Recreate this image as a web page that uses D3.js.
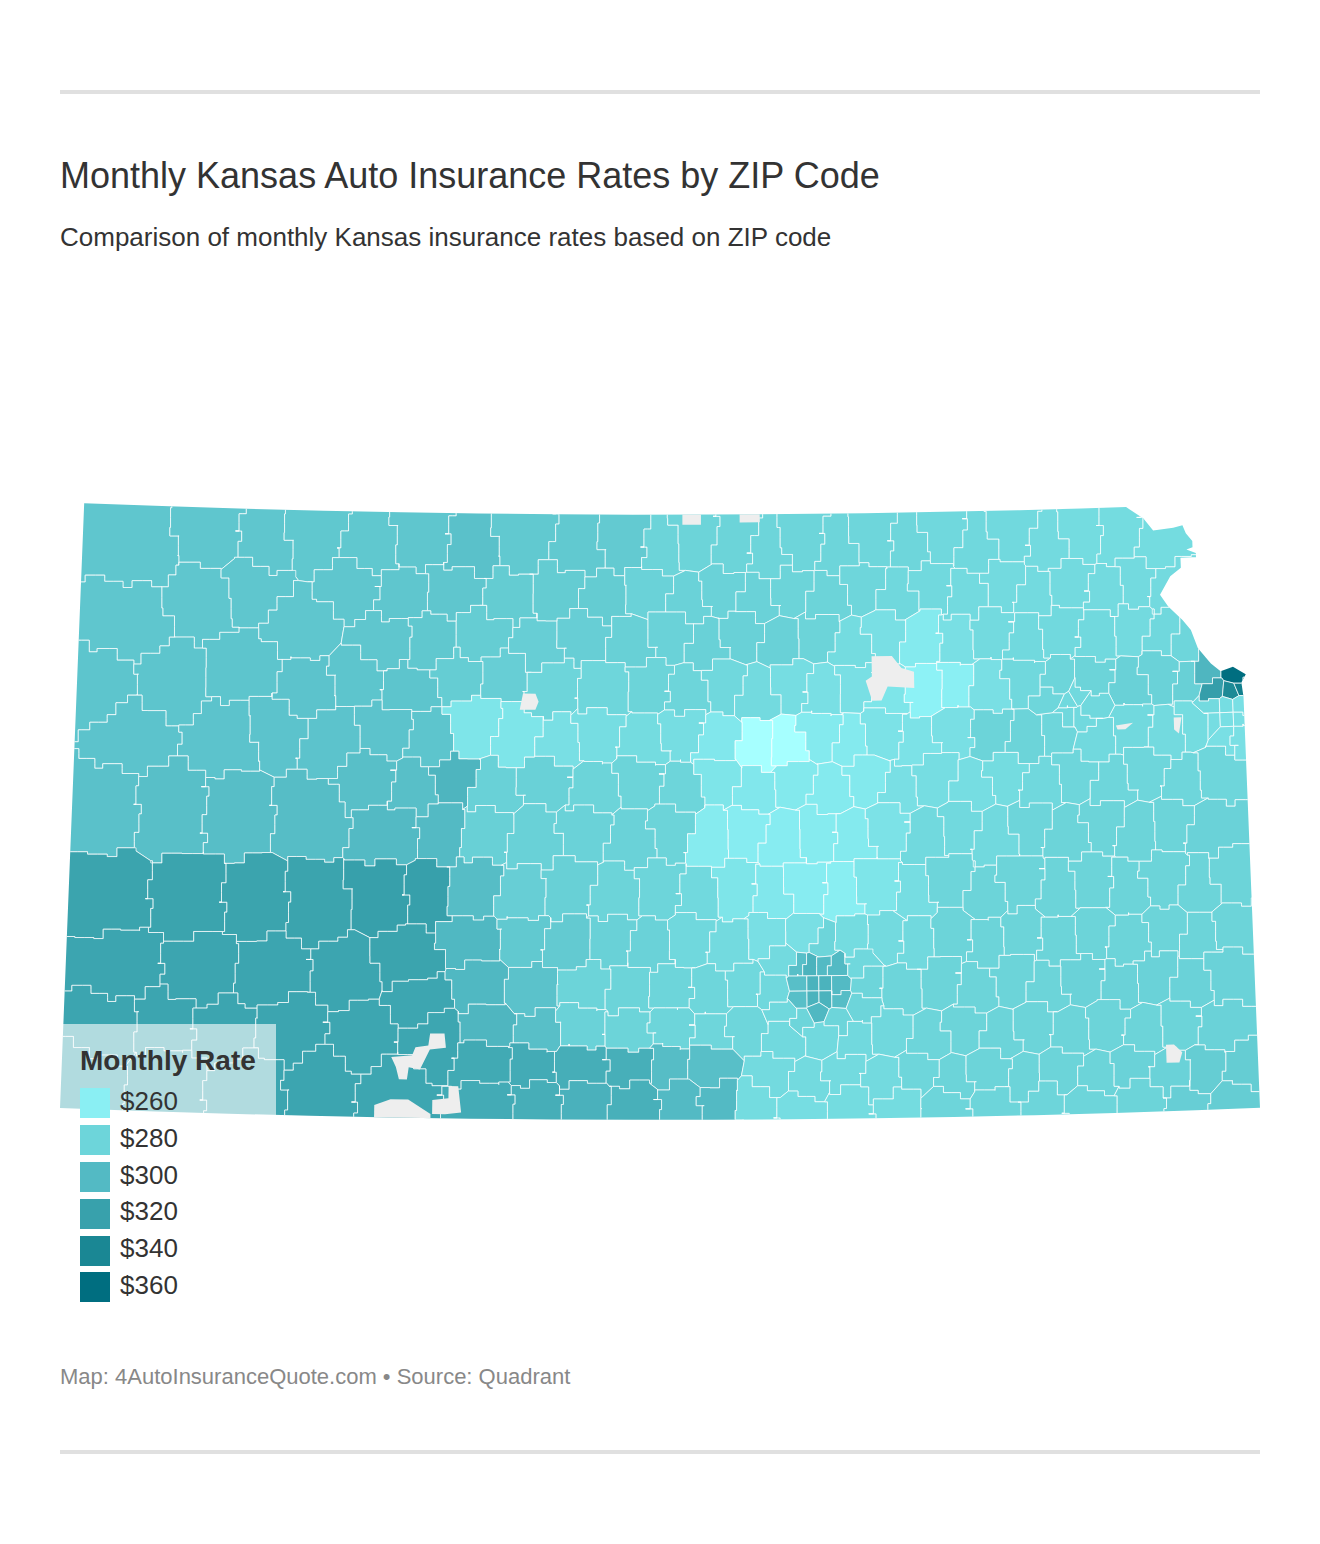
<!DOCTYPE html>
<html lang="en">
<head>
<meta charset="UTF-8">
<title>Monthly Kansas Auto Insurance Rates by ZIP Code</title>
<style>
  body { margin: 0; background: #fff; font-family: "Liberation Sans", Arial, sans-serif; }
  svg { display: block; }
  .title { font-size: 36px; fill: #333; }
  .subtitle { font-size: 26px; fill: #333; }
  .legend-title { font-size: 28px; font-weight: bold; fill: #333; }
  .legend-label { font-size: 26px; fill: #333; }
  .source { font-size: 22px; fill: #888; }
  .rule { fill: #e0e0e0; }
  .zip { stroke: #fff; stroke-width: 1; stroke-opacity: 0.72; stroke-linejoin: round; }
</style>
</head>
<body>
<svg id="chart" width="1320" height="1544"></svg>
<script src="https://d3js.org/d3.v7.min.js"></script>
<script>
// legend stops
const legendRates = [260, 280, 300, 320, 340, 360];
const legendColors = ["#8aeff3", "#6dd5da", "#53bac4", "#38a1ac", "#1a8794", "#006e80"];

// state border, [lon, lat]
const northBorder = [[-102.05,40],[-101.5,40],[-101,40],[-100.5,40],[-100,40],[-99.5,40],[-99,40],[-98.5,40],[-98,40],[-97.5,40],[-97,40],[-96.5,40],[-96,40],[-95.6,40],[-95.31,40]];
const riverBorder = [[-95.2,39.94],[-95.14,39.88],[-95.01,39.89],[-94.95,39.9],[-94.93,39.86],[-94.89,39.82],[-94.89,39.79],[-94.93,39.78],[-94.87,39.76],[-94.87,39.74],[-94.9,39.74],[-94.97,39.74],[-94.97,39.69],[-95.04,39.65],[-95.11,39.56],[-95.06,39.5],[-94.97,39.43],[-94.92,39.38],[-94.88,39.29],[-94.83,39.24],[-94.8,39.21],[-94.74,39.17],[-94.66,39.19],[-94.58,39.15],[-94.61,39.11],[-94.6,39.04]];
const southBorder = [[-94.6,37],[-95,37],[-95.5,37],[-96,37],[-96.5,37],[-97,37],[-97.5,37],[-98,37],[-98.5,37],[-99,37],[-99.5,37],[-100,37],[-100.5,37],[-101,37],[-101.5,37],[-102.05,37]];

// ZIP areas as [lon, lat, monthly rate], north to south
const zipsRow1 = [[-101.68,39.8,291],[-101.22,39.86,291],[-100.88,39.82,291],[-100.55,39.87,290],[-100.2,39.82,290],[-99.85,39.86,291],[-99.55,39.82,295],[-99.2,39.86,289],[-98.85,39.82,289],[-98.55,39.85,288],[-98.3,39.82,281],[-98.1,39.86,281],[-97.85,39.84,281],[-97.62,39.8,280],[-97.4,39.86,280],[-97.18,39.82,280],[-96.95,39.86,279],[-96.72,39.83,279],[-96.5,39.87,278],[-96.28,39.82,278],[-96.05,39.87,277],[-95.82,39.82,276],[-95.6,39.86,275],[-95.38,39.84,275],[-95.12,39.8,275]];
const zipsRow2 = [[-101.25,39.54,291],[-100.95,39.62,291],[-100.3,39.63,291],[-99.98,39.58,291],[-99.65,39.62,291],[-99.3,39.58,287],[-98.98,39.63,287],[-98.68,39.58,287],[-98.38,39.62,282],[-98.15,39.58,282],[-97.92,39.63,282],[-97.7,39.58,282],[-97.48,39.62,281],[-97.25,39.58,281],[-97.02,39.63,279],[-96.8,39.58,278],[-96.58,39.63,277],[-96.35,39.58,276],[-96.12,39.63,276],[-95.9,39.58,276],[-95.68,39.63,276],[-95.45,39.58,276],[-95.25,39.63,276],[-95.05,39.6,276]];
const zipsRow3 = [[-101.72,39.42,291],[-100.62,39.42,291],[-100.1,39.36,291],[-99.78,39.36,290],[-99.45,39.4,286],[-99.12,39.35,285],[-98.8,39.4,285],[-98.5,39.36,284],[-98.25,39.4,282],[-98.02,39.35,283],[-97.8,39.4,283],[-97.55,39.36,283],[-97.32,39.4,281],[-97.1,39.35,275],[-96.88,39.4,272],[-96.65,39.38,264],[-96.42,39.36,272],[-96.2,39.4,276],[-95.98,39.35,277],[-95.75,39.4,277],[-95.52,39.36,277],[-95.3,39.4,276],[-95.1,39.36,278],[-94.95,39.33,279]];
const zipsRow4 = [[-101.9,39.08,292],[-101.45,39.12,292],[-100.98,39.2,292],[-100.58,39.12,293],[-100.25,39.16,292],[-99.92,39.12,292],[-99.62,39.2,286],[-99.32,39.2,285],[-99,39.14,280],[-98.68,39.12,279],[-98.38,39.16,281],[-98.15,39.12,280],[-97.92,39.16,278],[-97.7,39.12,276],[-97.48,39.16,274],[-97.28,39.12,272],[-97.08,39.15,272],[-96.88,39.1,268],[-96.6,39.12,258],[-96.45,39.14,260],[-96.22,39.13,272],[-96,39.16,278],[-95.78,39.12,280],[-95.55,39.16,281],[-95.33,39.12,283],[-95.12,39.16,282],[-94.95,39.12,284]];
const zipsRow5 = [[-101.7,38.88,293],[-101.08,38.87,293],[-100.75,38.92,293],[-100.42,38.87,293],[-100.08,38.92,293],[-99.78,38.87,292],[-99.52,38.95,268],[-99.22,38.9,268],[-98.98,38.86,272],[-98.72,38.92,274],[-98.42,38.87,275],[-98.18,38.92,274],[-97.98,38.87,266],[-97.68,38.83,241],[-97.52,38.85,241],[-97.3,38.9,264],[-97.1,38.87,264],[-96.9,38.92,270],[-96.68,38.87,270],[-96.45,38.92,272],[-96.22,38.9,281],[-96,38.87,281],[-95.78,38.92,279],[-95.55,38.87,277],[-95.33,38.92,277],[-95.1,38.87,276],[-94.9,38.92,275]];
const zipsRow6 = [[-100.18,38.68,296],[-99.88,38.63,296],[-99.65,38.68,304],[-99.38,38.63,283],[-99.05,38.68,283],[-98.75,38.63,281],[-98.45,38.68,281],[-98.2,38.63,280],[-97.95,38.68,268],[-97.72,38.63,266],[-97.48,38.68,265],[-97.25,38.63,264],[-97.02,38.68,265],[-96.8,38.63,272],[-96.58,38.68,274],[-96.35,38.63,274],[-96.12,38.68,275],[-95.9,38.63,278],[-95.68,38.68,279],[-95.45,38.63,279],[-95.22,38.68,279],[-95,38.63,279],[-94.78,38.68,279]];
const zipsRow7 = [[-101.85,38.5,295],[-101.42,38.5,296],[-101,38.5,297],[-100.55,38.5,298],[-100.02,38.42,300],[-99.72,38.42,300],[-99.42,38.43,284],[-99.12,38.4,283],[-98.8,38.44,282],[-98.5,38.4,282],[-98.25,38.44,281],[-98,38.4,263],[-97.78,38.44,262],[-97.55,38.4,262],[-97.32,38.44,263],[-97.1,38.4,264],[-96.88,38.44,270],[-96.65,38.4,277],[-96.42,38.44,277],[-96.2,38.4,277],[-95.98,38.44,280],[-95.75,38.4,281],[-95.52,38.44,281],[-95.3,38.4,281],[-95.08,38.44,281],[-94.85,38.4,282]];
const zipsRow8 = [[-101.78,38.04,318],[-101.3,38.04,318],[-100.85,38.04,318],[-100.5,38.04,318],[-100.05,38.1,321],[-99.8,38.1,321],[-99.5,38.13,298],[-99.2,38.1,285],[-98.9,38.14,284],[-98.6,38.1,281],[-98.32,38.14,280],[-98.08,38.1,277],[-97.85,38.14,268],[-97.62,38.1,266],[-97.4,38.14,262],[-97.18,38.1,261],[-96.95,38.14,268],[-96.72,38.1,274],[-96.5,38.14,280],[-96.28,38.1,281],[-96.05,38.14,281],[-95.82,38.1,281],[-95.6,38.14,281],[-95.38,38.1,281],[-95.15,38.14,281],[-94.92,38.1,281],[-94.72,38.14,281]];
const zipsRow9 = [[-99.5,37.88,302],[-99.18,37.9,289],[-98.9,37.86,288],[-98.62,37.9,283],[-98.38,37.86,282],[-98.12,37.9,278],[-97.88,37.86,276],[-97.65,37.9,272],[-97.42,37.9,272],[-97.3,37.86,280],[-97.1,37.88,275],[-96.9,37.9,276],[-96.7,37.86,277],[-96.48,37.9,281],[-96.26,37.86,281],[-96.04,37.9,281],[-95.82,37.86,281],[-95.6,37.9,281],[-95.38,37.86,281],[-95.15,37.9,281],[-94.92,37.86,281],[-94.72,37.9,281]];
const zipsRow10 = [[-101.7,37.72,317],[-101.2,37.7,317],[-100.75,37.72,317],[-100.3,37.7,317],[-99.9,37.78,318],[-99.82,37.58,316],[-99.45,37.66,302],[-99.12,37.64,294],[-98.8,37.66,281],[-98.5,37.64,281],[-98.25,37.66,280],[-98,37.63,279],[-97.78,37.67,278],[-97.6,37.64,278],[-97.05,37.66,280],[-96.8,37.63,280],[-96.58,37.67,281],[-96.35,37.63,281],[-96.12,37.67,281],[-95.9,37.63,281],[-95.68,37.67,282],[-95.45,37.63,282],[-95.22,37.67,282],[-95,37.63,282],[-94.78,37.67,282]];
const zipsRow11 = [[-101.78,37.4,317],[-101.42,37.42,317],[-101.05,37.4,317],[-100.62,37.42,317],[-100.2,37.4,316],[-99.72,37.4,316],[-99.4,37.45,303],[-99.1,37.42,296],[-98.82,37.45,282],[-98.5,37.43,281],[-98.25,37.45,280],[-98,37.42,279],[-97.78,37.45,279],[-97.55,37.4,277],[-97.32,37.42,277],[-97.1,37.4,277],[-96.88,37.44,278],[-96.65,37.4,280],[-96.42,37.44,281],[-96.2,37.4,281],[-95.98,37.44,281],[-95.75,37.4,281],[-95.52,37.44,281],[-95.3,37.4,281],[-95.08,37.44,281],[-94.85,37.4,282]];
const zipsRow12 = [[-101.9,37.15,317],[-101.4,37.18,317],[-100.9,37.15,317],[-100.42,37.18,317],[-99.98,37.12,316],[-99.42,37.28,313],[-99.12,37.28,312],[-98.82,37.28,310],[-98.5,37.28,309],[-98.28,37.28,298],[-98,37.28,296],[-97.62,37.22,276],[-97.4,37.18,276],[-97.18,37.22,276],[-96.95,37.18,276],[-96.72,37.22,279],[-96.5,37.18,281],[-96.28,37.22,281],[-96.05,37.18,281],[-95.82,37.22,281],[-95.6,37.18,281],[-95.38,37.22,282],[-95.15,37.18,282],[-94.92,37.2,286],[-94.72,37.18,286]];
const zipsRow13 = [[-99.4,37.07,312],[-99.1,37.07,310],[-98.8,37.07,307],[-98.48,37.07,308],[-98.2,37.07,300],[-97.95,37.07,300],[-97.72,37.08,275],[-97.45,37.05,274],[-97.15,37.07,275],[-96.85,37.05,275],[-96.55,37.07,280],[-96.25,37.05,280],[-95.95,37.07,280],[-95.65,37.05,280],[-95.35,37.07,281],[-95.05,37.05,285],[-94.75,37.07,286]];
const zipsWichita = [[-97.44,37.75,296],[-97.37,37.75,306],[-97.29,37.75,300],[-97.21,37.75,300],[-97.44,37.67,296],[-97.37,37.67,306],[-97.29,37.67,306],[-97.21,37.67,300],[-97.44,37.6,296],[-97.37,37.6,306],[-97.29,37.6,306],[-97.21,37.6,298],[-97.34,37.54,302]];
const zipsAroundWichita = [[-97.55,37.78,276],[-97.1,37.76,278],[-97.08,37.56,280],[-97.54,37.53,278],[-97.44,37.5,280],[-97.22,37.5,280]];
const zipsKansasCity = [[-94.81,39.17,303],[-94.65,39.15,360],[-94.78,39.08,322],[-94.68,39.07,338],[-94.61,39.09,346]];
const zipsOverlandPark = [[-94.8,39,276],[-94.71,39,274],[-94.63,39,272],[-94.8,38.93,274],[-94.71,38.93,272],[-94.63,38.93,272],[-94.71,38.86,272],[-94.63,38.86,272]];
const zipsTopeka = [[-95.8,39.07,279],[-95.72,39.04,277],[-95.65,39.07,277],[-95.58,39.03,278],[-95.72,38.99,278],[-95.62,38.98,277]];

// areas with no rate, [lon, lat]
const noData = [
  [[-96.97,39.29],[-96.84,39.29],[-96.78,39.23],[-96.7,39.21],[-96.7,39.13],[-96.87,39.14],[-96.91,39.07],[-96.97,39.07],[-97.01,39.17],[-96.97,39.19]],
  [[-99.2,39.11],[-99.12,39.11],[-99.1,39.07],[-99.12,39.03],[-99.22,39.03]],
  [[-98.18,40.02],[-98.06,40.02],[-98.06,39.95],[-98.18,39.95]],
  [[-97.81,40.02],[-97.68,40.02],[-97.68,39.96],[-97.81,39.96]],
  [[-95.42,38.92],[-95.31,38.93],[-95.36,38.9],[-95.41,38.9]],
  [[-95.05,38.95],[-95,38.95],[-95.02,38.87],[-95.05,38.89]],
  [[-95.17,37.33],[-95.12,37.33],[-95.07,37.29],[-95.09,37.24],[-95.17,37.24]],
  [[-100,37.3],[-99.87,37.31],[-99.85,37.35],[-99.77,37.36],[-99.76,37.42],[-99.67,37.42],[-99.66,37.35],[-99.76,37.34],[-99.82,37.24],[-99.89,37.25],[-99.9,37.19],[-99.95,37.19],[-99.97,37.25]],
  [[-100.1,37.06],[-100,37.09],[-99.89,37.09],[-99.75,37.02],[-99.75,36.95],[-100.1,36.95]],
  [[-99.74,37.09],[-99.64,37.1],[-99.64,37.16],[-99.58,37.16],[-99.56,37.03],[-99.66,37.02],[-99.74,37.02]]
];

const svg = d3.select("#chart");
const outline = [...northBorder, ...riverBorder, ...southBorder];
const zips = [...zipsRow1, ...zipsRow2, ...zipsRow3, ...zipsRow4, ...zipsRow5, ...zipsRow6, ...zipsRow7,
  ...zipsRow8, ...zipsRow9, ...zipsRow10, ...zipsRow11, ...zipsRow12, ...zipsRow13,
  ...zipsWichita, ...zipsAroundWichita, ...zipsKansasCity, ...zipsOverlandPark, ...zipsTopeka];

const projection = d3.geoConicConformal()
  .parallels([37, 39])
  .rotate([98.33, 0])
  .fitExtent([[60, 502], [1260, 1121]], { type: "MultiPoint", coordinates: outline });

const color = d3.scaleLinear().domain(legendRates).range(legendColors);
const shape = d3.line();

// ZIP borders follow section lines, so break long edges into steps.
// Points go in a fixed order so both neighbours of an edge get the same steps.
function edgeSteps(a, b) {
  const flip = a[0] > b[0] || (a[0] === b[0] && a[1] > b[1]);
  const p = flip ? b : a, q = flip ? a : b;
  const len = Math.hypot(q[0] - p[0], q[1] - p[1]);
  const n = Math.floor(len / 9);
  if (n < 2) return [];
  const nx = (q[1] - p[1]) / len, ny = (p[0] - q[0]) / len;
  const seed = Math.round(p[0]) * 31 + Math.round(p[1]) * 17 + Math.round(q[0]) * 13 + Math.round(q[1]) * 7;
  const steps = [];
  let last = p;
  for (let j = 1; j <= n; j++) {
    const h = Math.abs(seed + j * 29) % 5;
    const t = j / n;
    const off = j === n ? 0 : (h - 2) * 2;
    const pt = [p[0] + (q[0] - p[0]) * t + nx * off, p[1] + (q[1] - p[1]) * t + ny * off];
    steps.push(h % 2 ? [pt[0], last[1]] : [last[0], pt[1]]);
    if (j < n) steps.push(pt);
    last = pt;
  }
  return flip ? steps.reverse() : steps;
}

function roughCell(poly) {
  const pts = [];
  for (let i = 0; i < poly.length - 1; i++) {
    pts.push(poly[i], ...edgeSteps(poly[i], poly[i + 1]));
  }
  return pts;
}

// rules and headings
svg.selectAll(".rule").data([90, 1450]).enter().append("rect")
  .attr("class", "rule").attr("x", 60).attr("y", d => d).attr("width", 1200).attr("height", 4);
svg.append("text").attr("class", "title").attr("x", 60).attr("y", 188)
  .text("Monthly Kansas Auto Insurance Rates by ZIP Code");
svg.append("text").attr("class", "subtitle").attr("x", 60).attr("y", 246)
  .text("Comparison of monthly Kansas insurance rates based on ZIP code");
svg.append("text").attr("class", "source").attr("x", 60).attr("y", 1384)
  .text("Map: 4AutoInsuranceQuote.com • Source: Quadrant");

// map
svg.append("clipPath").attr("id", "state").append("path")
  .attr("d", shape(outline.map(projection)) + "Z");
const map = svg.append("g").attr("clip-path", "url(#state)");

const sitePoints = zips.map(d => projection([d[0], d[1]]));
const voronoi = d3.Delaunay.from(sitePoints).voronoi([20, 460, 1300, 1160]);

map.selectAll(".zip").data(zips).enter().append("path")
  .attr("class", "zip")
  .attr("fill", d => color(d[2]))
  .attr("d", (d, i) => shape(roughCell(voronoi.cellPolygon(i))) + "Z");

map.selectAll(".no-data").data(noData).enter().append("path")
  .attr("class", "no-data")
  .attr("fill", "#eeeeee")
  .attr("d", d => shape(d.map(projection)) + "Z");

// legend
svg.append("rect").attr("x", 60).attr("y", 1024).attr("width", 216).attr("height", 290)
  .attr("fill", "#fff").attr("fill-opacity", 0.6);
svg.append("text").attr("class", "legend-title").attr("x", 80).attr("y", 1070).text("Monthly Rate");

const legendRow = d3.scalePoint().domain(legendRates).range([0, 184]);
const legend = svg.selectAll(".legend-row").data(legendRates).enter().append("g").attr("class", "legend-row");
legend.append("rect")
  .attr("x", 80).attr("y", d => Math.round(1088.4 + legendRow(d)))
  .attr("width", 30).attr("height", 30)
  .attr("fill", color);
legend.append("text").attr("class", "legend-label")
  .attr("x", 120).attr("y", d => 1110 + legendRow(d))
  .text(d => "$" + d);
</script>
</body>
</html>
